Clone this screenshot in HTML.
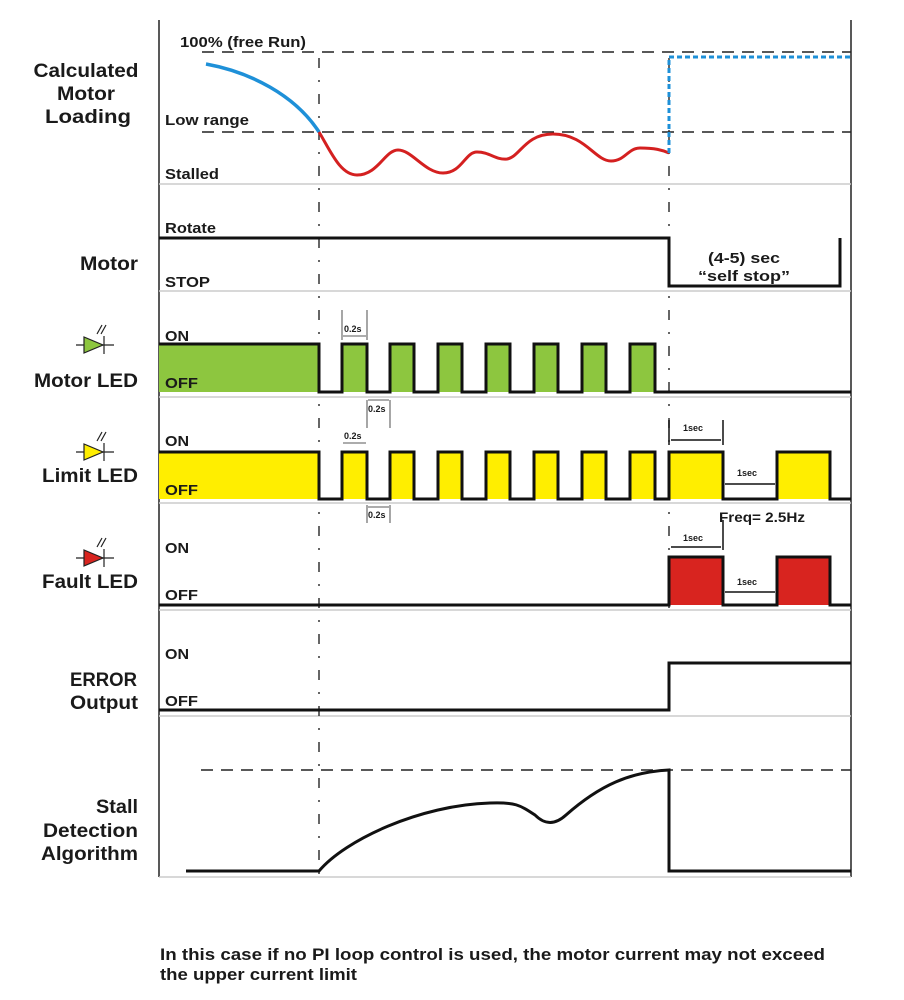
<!DOCTYPE html>
<html><head><meta charset="utf-8"><style>
body{margin:0;background:#fff}
svg{display:block}
text{font-family:"Liberation Sans",Arial,sans-serif;font-weight:bold;fill:#1a1a1a}
</style></head><body>
<svg width="904" height="1000" viewBox="0 0 904 1000" xmlns="http://www.w3.org/2000/svg">
<line x1="159" y1="20" x2="159" y2="877" stroke="#222" stroke-width="1.5"/>
<line x1="851" y1="20" x2="851" y2="877" stroke="#222" stroke-width="1.5"/>
<g stroke="#ccc" stroke-width="1.5">
<line x1="159" y1="184" x2="851" y2="184"/>
<line x1="159" y1="291" x2="851" y2="291"/>
<line x1="159" y1="397" x2="851" y2="397"/>
<line x1="159" y1="503" x2="851" y2="503"/>
<line x1="159" y1="610" x2="851" y2="610"/>
<line x1="159" y1="716" x2="851" y2="716"/>
<line x1="159" y1="877" x2="851" y2="877"/>
</g>
<line x1="319" y1="58" x2="319" y2="877" stroke="#333" stroke-width="1.5" stroke-dasharray="10,12,2,12"/>
<line x1="669" y1="58" x2="669" y2="610" stroke="#333" stroke-width="1.5" stroke-dasharray="10,12,2,12"/>

<line x1="202" y1="52" x2="851" y2="52" stroke="#222" stroke-width="1.5" stroke-dasharray="12,8"/>
<line x1="202" y1="132" x2="851" y2="132" stroke="#222" stroke-width="1.5" stroke-dasharray="12,8"/>
<text x="180" y="47" font-size="15" textLength="126" lengthAdjust="spacingAndGlyphs">100% (free Run)</text>
<text x="165" y="125" font-size="15" textLength="84" lengthAdjust="spacingAndGlyphs">Low range</text>
<text x="165" y="179" font-size="15" textLength="54" lengthAdjust="spacingAndGlyphs">Stalled</text>
<path d="M206 64 C250 72 295 95 319 132" fill="none" stroke="#1e90d8" stroke-width="3.5"/>
<path d="M319 132 C330 150 340 175 357 175 C378 175 385 150 398 150 C412 150 425 173 443 173 C462 173 465 152 477 152 C490 152 495 160 507 159 C520 157 525 134 553 134 C585 134 595 161 611 161 C625 161 628 148 640 148 C655 148 662 150 669 153" fill="none" stroke="#d42020" stroke-width="3"/>
<path d="M669 153 L669 57 L851 57" fill="none" stroke="#1e90d8" stroke-width="3" stroke-dasharray="5,3"/>
<text x="86" y="77" font-size="19" text-anchor="middle" textLength="105" lengthAdjust="spacingAndGlyphs">Calculated</text>
<text x="86" y="100" font-size="19" text-anchor="middle" textLength="58" lengthAdjust="spacingAndGlyphs">Motor</text>
<text x="88" y="123" font-size="19" text-anchor="middle" textLength="86" lengthAdjust="spacingAndGlyphs">Loading</text>

<text x="165" y="233" font-size="15" textLength="51" lengthAdjust="spacingAndGlyphs">Rotate</text>
<text x="165" y="287" font-size="15" textLength="45" lengthAdjust="spacingAndGlyphs">STOP</text>
<path d="M159 238 L669 238 L669 286 L840 286 L840 238" fill="none" stroke="#111" stroke-width="3"/>
<text x="744" y="263" font-size="15" text-anchor="middle" textLength="72" lengthAdjust="spacingAndGlyphs">(4-5) sec</text>
<text x="744" y="281" font-size="15" text-anchor="middle" textLength="92" lengthAdjust="spacingAndGlyphs">“self stop”</text>
<text x="138" y="270" font-size="19" text-anchor="end" textLength="58" lengthAdjust="spacingAndGlyphs">Motor</text>

<g fill="#8dc63f">
<rect x="159" y="344" width="160" height="48"/>
<rect x="342" y="344" width="25" height="48"/><rect x="390" y="344" width="24" height="48"/><rect x="438" y="344" width="24" height="48"/><rect x="486" y="344" width="24" height="48"/><rect x="534" y="344" width="24" height="48"/><rect x="582" y="344" width="24" height="48"/><rect x="630" y="344" width="25" height="48"/>
</g>
<path d="M159 344 L319 344 L319 392 L342 392 L342 344 L367 344 L367 392 L390 392 L390 344 L414 344 L414 392 L438 392 L438 344 L462 344 L462 392 L486 392 L486 344 L510 344 L510 392 L534 392 L534 344 L558 344 L558 392 L582 392 L582 344 L606 344 L606 392 L630 392 L630 344 L655 344 L655 392 L851 392" fill="none" stroke="#111" stroke-width="3"/>
<text x="165" y="341" font-size="15" textLength="24" lengthAdjust="spacingAndGlyphs">ON</text>
<text x="165" y="388" font-size="15" textLength="33" lengthAdjust="spacingAndGlyphs">OFF</text>
<text x="138" y="387" font-size="19" text-anchor="end" textLength="104" lengthAdjust="spacingAndGlyphs">Motor LED</text>
<g font-size="9"><text x="344" y="332">0.2s</text><text x="368" y="412">0.2s</text></g>
<g stroke="#222" stroke-width="0.8"><line x1="342" y1="310" x2="342" y2="340"/><line x1="367" y1="310" x2="367" y2="340"/><line x1="343" y1="336" x2="366" y2="336"/>
<line x1="367" y1="400" x2="367" y2="428"/><line x1="390" y1="400" x2="390" y2="428"/><line x1="368" y1="400" x2="389" y2="400"/></g>

<g fill="#ffee00">
<rect x="159" y="452" width="160" height="47"/>
<rect x="342" y="452" width="25" height="47"/><rect x="390" y="452" width="24" height="47"/><rect x="438" y="452" width="24" height="47"/><rect x="486" y="452" width="24" height="47"/><rect x="534" y="452" width="24" height="47"/><rect x="582" y="452" width="24" height="47"/><rect x="630" y="452" width="25" height="47"/>
<rect x="669" y="452" width="54" height="47"/><rect x="777" y="452" width="53" height="47"/>
</g>
<path d="M159 452 L319 452 L319 499 L342 499 L342 452 L367 452 L367 499 L390 499 L390 452 L414 452 L414 499 L438 499 L438 452 L462 452 L462 499 L486 499 L486 452 L510 452 L510 499 L534 499 L534 452 L558 452 L558 499 L582 499 L582 452 L606 452 L606 499 L630 499 L630 452 L655 452 L655 499 L669 499 L669 452 L723 452 L723 499 L777 499 L777 452 L830 452 L830 499 L851 499" fill="none" stroke="#111" stroke-width="3"/>
<text x="165" y="446" font-size="15" textLength="24" lengthAdjust="spacingAndGlyphs">ON</text>
<text x="165" y="495" font-size="15" textLength="33" lengthAdjust="spacingAndGlyphs">OFF</text>
<text x="138" y="482" font-size="19" text-anchor="end" textLength="96" lengthAdjust="spacingAndGlyphs">Limit LED</text>
<g font-size="9"><text x="344" y="439">0.2s</text><text x="368" y="518">0.2s</text><text x="683" y="431">1sec</text><text x="737" y="476">1sec</text></g>
<g stroke="#222" stroke-width="0.8"><line x1="343" y1="443" x2="366" y2="443"/><line x1="367" y1="505" x2="367" y2="523"/><line x1="390" y1="505" x2="390" y2="523"/><line x1="368" y1="507" x2="389" y2="507"/></g>
<g stroke="#111" stroke-width="1.5"><line x1="669" y1="420" x2="669" y2="445"/><line x1="723" y1="420" x2="723" y2="445"/><line x1="671" y1="440" x2="721" y2="440"/><line x1="725" y1="484" x2="775" y2="484"/>
<line x1="671" y1="547" x2="721" y2="547"/><line x1="723" y1="520" x2="723" y2="550"/><line x1="725" y1="592" x2="775" y2="592"/></g>

<g fill="#d8241f"><rect x="669" y="557" width="54" height="48"/><rect x="777" y="557" width="53" height="48"/></g>
<path d="M159 605 L669 605 L669 557 L723 557 L723 605 L777 605 L777 557 L830 557 L830 605 L851 605" fill="none" stroke="#111" stroke-width="3"/>
<text x="165" y="553" font-size="15" textLength="24" lengthAdjust="spacingAndGlyphs">ON</text>
<text x="165" y="600" font-size="15" textLength="33" lengthAdjust="spacingAndGlyphs">OFF</text>
<text x="138" y="588" font-size="19" text-anchor="end" textLength="96" lengthAdjust="spacingAndGlyphs">Fault LED</text>
<text x="719" y="522" font-size="14" textLength="86" lengthAdjust="spacingAndGlyphs">Freq= 2.5Hz</text>
<g font-size="9"><text x="683" y="541">1sec</text><text x="737" y="585">1sec</text></g>

<g stroke="#222" stroke-width="1.2">
<g><line x1="76" y1="345" x2="114" y2="345"/><polygon points="84,337 84,353 103,345" fill="#8dc63f"/><line x1="104" y1="336" x2="104" y2="354"/><line x1="97" y1="334" x2="102" y2="325"/><line x1="101" y1="334" x2="106" y2="325"/></g>
<g transform="translate(0,107)"><line x1="76" y1="345" x2="114" y2="345"/><polygon points="84,337 84,353 103,345" fill="#ffee00"/><line x1="104" y1="336" x2="104" y2="354"/><line x1="97" y1="334" x2="102" y2="325"/><line x1="101" y1="334" x2="106" y2="325"/></g>
<g transform="translate(0,213)"><line x1="76" y1="345" x2="114" y2="345"/><polygon points="84,337 84,353 103,345" fill="#d8241f"/><line x1="104" y1="336" x2="104" y2="354"/><line x1="97" y1="334" x2="102" y2="325"/><line x1="101" y1="334" x2="106" y2="325"/></g>
</g>

<path d="M159 710 L669 710 L669 663 L851 663" fill="none" stroke="#111" stroke-width="3"/>
<text x="165" y="659" font-size="15" textLength="24" lengthAdjust="spacingAndGlyphs">ON</text>
<text x="165" y="706" font-size="15" textLength="33" lengthAdjust="spacingAndGlyphs">OFF</text>
<text x="137" y="686" font-size="19" text-anchor="end" textLength="67" lengthAdjust="spacingAndGlyphs">ERROR</text>
<text x="138" y="709" font-size="19" text-anchor="end" textLength="68" lengthAdjust="spacingAndGlyphs">Output</text>

<line x1="201" y1="770" x2="851" y2="770" stroke="#222" stroke-width="1.5" stroke-dasharray="12,8"/>
<path d="M186 871 L319 871 C345 840 420 805 490 803 C515 802 520 805 535 815 C545 825 555 825 566 815 C600 785 630 772 669 770 L669 871 L851 871" fill="none" stroke="#111" stroke-width="3"/>
<text x="138" y="813" font-size="19" text-anchor="end" textLength="42" lengthAdjust="spacingAndGlyphs">Stall</text>
<text x="138" y="837" font-size="19" text-anchor="end" textLength="95" lengthAdjust="spacingAndGlyphs">Detection</text>
<text x="138" y="860" font-size="19" text-anchor="end" textLength="97" lengthAdjust="spacingAndGlyphs">Algorithm</text>

<text x="160" y="960" font-size="17" textLength="665" lengthAdjust="spacingAndGlyphs">In this case if no PI loop control is used, the motor current may not exceed</text>
<text x="160" y="980" font-size="17" textLength="197" lengthAdjust="spacingAndGlyphs">the upper current limit</text>
</svg>
</body></html>
